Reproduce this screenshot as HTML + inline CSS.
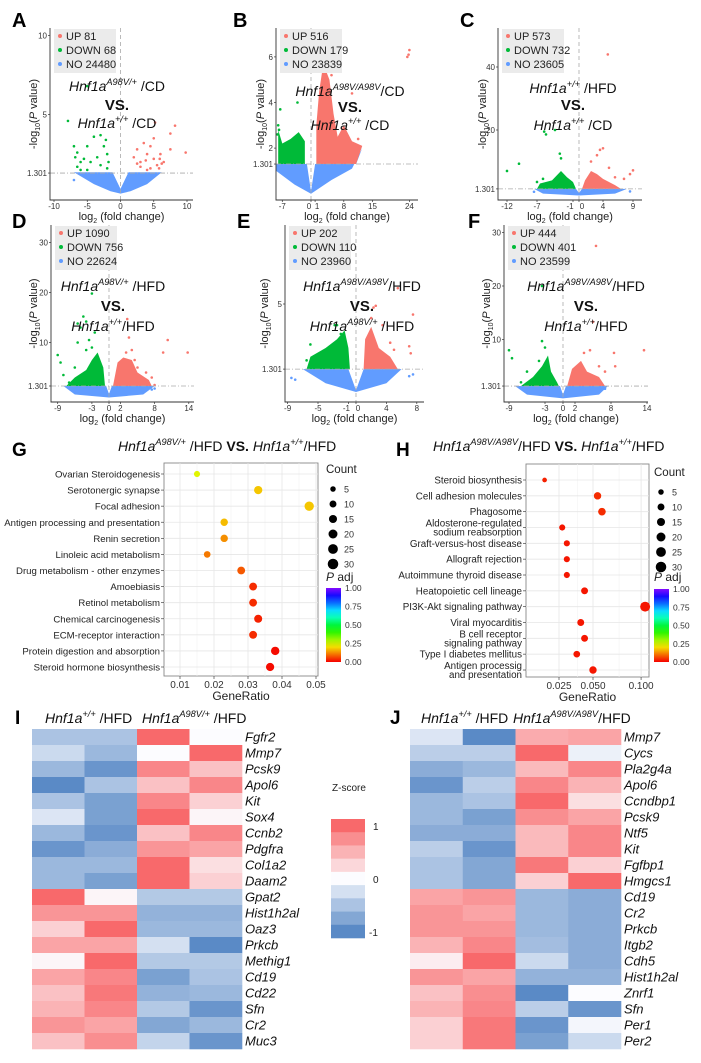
<!DOCTYPE html>
<html><head><meta charset="utf-8">
<style>
html,body{margin:0;padding:0;background:#fff;}
svg{display:block;font-family:"Liberation Sans",Arial,sans-serif;}
</style></head>
<body>
<svg id="fig" width="701" height="1063" viewBox="0 0 701 1063" xmlns="http://www.w3.org/2000/svg"></svg>
<script>
// ---------- Volcano data (log2FC, -log10 P) ----------
const volcA_up=[[2,2.3],[2.5,2.8],[3,2],[3.5,3.2],[4,2.5],[4.5,3],[5,2.2],[5.5,1.8],[6,2.5],[6.5,2],[3,1.7],[4.5,1.6],[5,3.5],[7.5,2.8],[7.5,3.8],[8.2,4.3],[9.8,2.6],[5.2,4.5],[2.5,1.9],[4,1.5],[5.8,1.6],[6.2,1.9],[5.9,2.2],[3.8,2.1]];
const volcA_down=[[-7,3],[-6.5,2.6],[-6,2],[-6.5,1.7],[-5.5,2.2],[-5,3],[-4.5,2],[-4,3.6],[-3,3.7],[-2.5,3],[-3.5,2.3],[-2,2.5],[-2.2,3.4],[-3,1.8],[-5,1.5],[-7.9,4.6],[-5,6.8],[-6,1.5],[-2,1.6],[-1.8,2.0],[-6.8,2.3]];
const volcA_no=[[-7,0.86]];
const volcB_up=[[8,7.4],[23.5,6],[24,6.3],[23.8,6.1],[10,4.4],[6,6.5],[7,5.8],[11.5,2.4],[5,5.2],[3,6.4]];
const volcB_down=[[-7.5,3.7],[-3.3,4],[-8,3],[-7.8,2.8],[-8.2,2.6]];
const volcB_no=[];
const volcC_up=[[4.8,44],[3.5,13.7],[4,14.2],[3,12],[2,10],[8.5,6],[9,7.2],[7.5,4.5],[5,8],[6,5]];
const volcC_down=[[-12,7],[-10,9.3],[-5.8,19.5],[-5.5,18.6],[-4,20],[-3,11],[-3.2,12.5],[-7,3.5],[-6,4.5]];
const volcC_no=[[-7.5,0.4],[8.5,0.5]];
const volcD_up=[[3.2,14.7],[3.5,11],[3,8],[4,8.5],[10.3,10.5],[9.5,8],[13.8,8],[6.5,4],[7.5,3],[8,1.5],[5,5],[4.5,6.5]];
const volcD_down=[[-9,7.5],[-8.5,6],[-5.5,10],[-5.5,13.8],[-5,13],[-4.5,15.2],[-4,14.2],[-3.5,10.5],[-3,19.8],[-3,9],[-4,8.5],[-2.5,12],[-8,3.5],[-7,2],[-6,5]];
const volcD_no=[[8,0.8],[7.5,0.6]];
const volcE_up=[[2.3,4.8],[2.6,4.9],[7.5,4.4],[5.5,5.9],[7,2.6],[7.2,2.2],[3.5,3.8],[4.5,2.8],[2,4.2],[5,2.4]];
const volcE_down=[[-2.8,3.8],[-2.5,3.8],[-6,2.7],[-6.5,1.8],[-2,3.3],[-3,2.4],[-4,1.6],[-5,1.8],[-2.2,2.9]];
const volcE_no=[[-8.5,0.8],[-8,0.7],[7.5,1.0],[7,0.9]];
const volcF_up=[[5.5,27.5],[13.5,8],[5,13.3],[8.5,7.5],[4.5,8],[3.5,7.5],[6,5],[7,4],[8.7,5]];
const volcF_down=[[-9,8],[-8.5,6.5],[-3.5,9.7],[-3,8.5],[-3.5,20],[-6,4],[-7,2],[-4,6]];
const volcF_no=[[6.5,1],[7,0.8]];
const volcCounts={A:[81,68,24480],B:[516,179,23839],C:[573,732,23605],D:[1090,756,22624],E:[202,110,23960],F:[444,401,23599]};

// ---------- Enrichment data ----------
const gTerms=["Ovarian Steroidogenesis","Serotonergic synapse","Focal adhesion","Antigen processing and presentation","Renin secretion","Linoleic acid metabolism","Drug metabolism - other enzymes","Amoebiasis","Retinol metabolism","Chemical carcinogenesis","ECM-receptor interaction","Protein digestion and absorption","Steroid hormone biosynthesis"];
const gRatio=[0.015,0.033,0.048,0.023,0.023,0.018,0.028,0.0315,0.0315,0.033,0.0315,0.038,0.0365];
const gCount=[7,16,22,12,12,9,14,14,14,15,14,17,16];
const gPadj=[0.24,0.18,0.18,0.17,0.13,0.11,0.08,0.04,0.04,0.03,0.04,0.01,0.01];
const gTicks=[0.01,0.02,0.03,0.04,0.05];
const hTerms=["Steroid biosynthesis","Cell adhesion molecules","Phagosome","Aldosterone-regulated|sodium reabsorption","Graft-versus-host disease","Allograft rejection","Autoimmune thyroid disease","Heatopoietic cell lineage","PI3K-Akt signaling pathway","Viral myocarditis","B cell receptor|signaling pathway","Type I diabetes mellitus","Antigen processig|and presentation"];
const hRatio=[0.017,0.054,0.058,0.027,0.030,0.030,0.030,0.043,0.105,0.040,0.043,0.037,0.050];
const hCount=[3,12,13,7,7,7,7,10,26,10,10,9,12];
const hPadj=[0.03,0.04,0.04,0.02,0.02,0.02,0.02,0.02,0.02,0.02,0.02,0.02,0.02];
const hTicks=[0.025,0.05,0.1];
const sizeLegend=[5,10,15,20,25,30];
const padjTicks=[1.00,0.75,0.50,0.25,0.00];

// ---------- Heatmap data (z-scores) ----------
const iGenes=["Fgfr2","Mmp7","Pcsk9","Apol6","Kit","Sox4","Ccnb2","Pdgfra","Col1a2","Daam2","Gpat2","Hist1h2al","Oaz3","Prkcb","Methig1","Cd19","Cd22","Sfn","Cr2","Muc3"];
const iZ=[[-0.5,-0.5,1,0],[-0.3,-0.6,0,1],[-0.6,-0.9,0.8,0.4],[-1,-0.5,0.4,0.8],[-0.5,-0.8,0.8,0.3],[-0.2,-0.8,1,0.05],[-0.6,-0.9,0.4,0.8],[-0.9,-0.7,0.7,0.6],[-0.6,-0.6,1,0.2],[-0.6,-0.8,1,0.3],[1,0.05,-0.45,-0.45],[0.7,0.7,-0.65,-0.65],[0.3,1,-0.6,-0.6],[0.6,0.6,-0.25,-1],[0.05,1,-0.45,-0.45],[0.6,0.8,-0.8,-0.5],[0.4,0.9,-0.65,-0.6],[0.5,0.8,-0.45,-0.9],[0.7,0.6,-0.75,-0.6],[0.4,0.75,-0.35,-0.9]];
const jGenes=["Mmp7","Cycs","Pla2g4a","Apol6","Ccndbp1","Pcsk9","Ntf5","Kit","Fgfbp1","Hmgcs1","Cd19","Cr2","Prkcb","Itgb2","Cdh5","Hist1h2al","Znrf1","Sfn","Per1","Per2"];
const jZ=[[-0.2,-1,0.55,0.6],[-0.4,-0.4,1,-0.1],[-0.7,-0.6,0.45,0.8],[-0.9,-0.4,0.8,0.5],[-0.6,-0.5,1,0.2],[-0.6,-0.8,0.75,0.6],[-0.7,-0.7,0.45,0.8],[-0.4,-0.9,0.45,0.8],[-0.5,-0.75,0.9,0.3],[-0.5,-0.75,0.3,1],[0.6,0.7,-0.6,-0.7],[0.7,0.6,-0.6,-0.7],[0.7,0.7,-0.6,-0.7],[0.5,0.8,-0.55,-0.7],[0.1,1,-0.3,-0.7],[0.7,0.6,-0.65,-0.65],[0.4,0.75,-1,0],[0.5,0.8,-0.4,-0.9],[0.3,0.9,-0.9,-0.05],[0.3,0.9,-0.8,-0.3]];
const zLegend=[1,0.75,0.5,0.25,0,-0.25,-0.5,-0.75,-1];

// ---------- helpers ----------
const NS="http://www.w3.org/2000/svg";
const svg=document.getElementById('fig');
function mk(tag,attrs,parent){const e=document.createElementNS(NS,tag);for(const k in attrs)e.setAttribute(k,attrs[k]);(parent||svg).appendChild(e);return e;}
const RED="#F8766D",GREEN="#00BA38",BLUE="#619CFF";

function hnfText(parent,x,y,sup,suffix,size,anchor,name){
  const t=mk('text',{x:x,y:y,'font-size':size,'text-anchor':anchor||'middle',fill:'#111'},parent);
  
  
  const a=mk('tspan',{'font-style':'italic'},t);a.textContent='Hnf1a';
  const b=mk('tspan',{'font-style':'italic','font-size':size*0.66,dy:-size*0.42},t);b.textContent=sup;
  const c=mk('tspan',{dy:size*0.42},t);c.textContent=suffix;
  return t;
}
function panelLetter(l,x,y,size){
  const t=mk('text',{x:x,y:y,'font-size':size||20,'font-weight':'bold',fill:'#000'});
  
  
  t.textContent=l;
}

function volcano(c){
  const g=mk('g',{});
  
  
  const sx=v=>c.x0px+c.xppu*v, sy=v=>c.y0px-c.yppu*v;
  const b=c.box;
  const clip=mk('clipPath',{id:'clip'+c.id},g);mk('rect',{x:b[0],y:b[1],width:b[2]-b[0],height:b[3]-b[1]},clip);
  const pg=mk('g',{'clip-path':'url(#clip'+c.id+')'},g);
  const poly=(pts,col,name)=>{const p=mk('polygon',{points:pts.map(q=>sx(q[0])+','+sy(q[1])).join(' '),fill:col},pg);};
  poly(c.bluePoly,BLUE,'no-change-cloud');
  if(c.greenPoly)poly(c.greenPoly,GREEN,'down-cluster');
  if(c.redPoly)poly(c.redPoly,RED,'up-cluster');
  const dots=(arr,col,name)=>arr.forEach(q=>{const d=mk('circle',{cx:sx(q[0]),cy:sy(q[1]),r:1.3,fill:col},pg);});
  dots(c.no,BLUE,'no-point');dots(c.down,GREEN,'down-point');dots(c.up,RED,'up-point');
  const vl=mk('line',{x1:sx(0),x2:sx(0),y1:b[1],y2:b[3],stroke:'#aaa','stroke-width':0.8,'stroke-dasharray':'4 3'},g);
  
  const hl=mk('line',{x1:b[0],x2:b[2],y1:sy(1.301),y2:sy(1.301),stroke:'#aaa','stroke-width':0.8,'stroke-dasharray':'5 2 1 2'},g);
  
  const ax=mk('path',{d:`M${b[0]},${b[1]}V${b[3]}H${b[2]}`,fill:'none',stroke:'#333','stroke-width':0.9},g);
  
  c.xticks.forEach((v,i)=>{const x=sx(v)+(c.xtickDx?c.xtickDx[i]:0);mk('line',{x1:sx(v),x2:sx(v),y1:b[3],y2:b[3]+2,stroke:'#333','stroke-width':0.7},g);
    const t=mk('text',{x:x,y:b[3]+9,'font-size':8,'text-anchor':'middle',fill:'#333'},g);t.textContent=(c.xlabels?c.xlabels[i]:v);});
  c.yticks.forEach(v=>{mk('line',{x1:b[0]-2,x2:b[0],y1:sy(v),y2:sy(v),stroke:'#333','stroke-width':0.7},g);
    const t=mk('text',{x:b[0]-3,y:sy(v)+3,'font-size':8,'text-anchor':'end',fill:'#333'},g);t.textContent=v;});
  const xt=mk('text',{x:(b[0]+b[2])/2,y:b[3]+20,'font-size':11,'text-anchor':'middle',fill:'#222'},g);
  
  xt.innerHTML='log<tspan font-size="7" dy="3">2</tspan><tspan dy="-3"> (fold change)</tspan>';
  const yx=c.ytitleX, yy=(b[1]+b[3])/2;
  const yt=mk('text',{x:yx,y:yy,'font-size':11,'text-anchor':'middle',fill:'#222',transform:`rotate(-90 ${yx} ${yy})`},g);
  
  yt.innerHTML='-log<tspan font-size="7" dy="3">10</tspan><tspan dy="-3">(</tspan><tspan font-style="italic">P</tspan> value)';
  const lg=mk('g',{},g);
  mk('rect',{x:b[0]+4,y:b[1]+1,width:62,height:44,fill:'#ebebeb'},lg);
  const cnt=volcCounts[c.id];const labs=['UP ','DOWN ','NO '];const cols=[RED,GREEN,BLUE];
  labs.forEach((l,i)=>{const yy2=b[1]+8+i*14;
    const e=mk('g',{},lg);
    mk('circle',{cx:b[0]+10,cy:yy2,r:2,fill:cols[i]},e);
    const t=mk('text',{x:b[0]+16,y:yy2+4,'font-size':11,fill:'#222'},e);t.textContent=l+cnt[i];});
  hnfText(g,c.tx,c.ty[0],c.sup1,c.suf1,14,'middle','comparison-title-top');
  const vs=mk('text',{x:c.tx,y:c.ty[1],'font-size':15,'font-weight':'bold','text-anchor':'middle',fill:'#111'},g);
  vs.textContent='VS.';
  hnfText(g,c.tx,c.ty[2],c.sup2,c.suf2,14,'middle','comparison-title-bottom');
}

panelLetter('A',12,27);panelLetter('B',233,27);panelLetter('C',460,27);
panelLetter('D',12,228);panelLetter('E',237,228);panelLetter('F',468,228);
volcano({id:'A',box:[50,28,193,200],x0px:120.5,xppu:6.65,y0px:193.6,yppu:15.8,xticks:[-10,-5,0,5,10],yticks:[1.301,5,10],ytitleX:37,
  bluePoly:[[-7,1.35],[-1.2,1.35],[0,0.3],[1.2,1.35],[6.2,1.35],[4,0.6],[1.5,0.15],[0,0],[-1.5,0.15],[-4,0.6]],
  up:volcA_up,down:volcA_down,no:volcA_no,tx:117,ty:[91,110,128],sup1:'A98V/+',suf1:' /CD',sup2:'+/+',suf2:' /CD'});
volcano({id:'B',box:[276,28,418,200],x0px:311,xppu:4.1,y0px:193.7,yppu:22.8,xticks:[-7,0,1,8,15,24],xlabels:['-7','0','1','8','15','24'],xtickDx:[0,-2,2,0,0,0],yticks:[1.301,2,4,6],ytitleX:264,
  bluePoly:[[-8.5,1.3],[-1,1.3],[0,0.1],[1,1.3],[11,1.3],[12.5,2.0],[10,1.1],[5,0.6],[0,0],[-4,0.4],[-8.5,1.0]],
  greenPoly:[[-8,1.3],[-8,2.8],[-7,2.2],[-5,2.4],[-3,2.7],[-1.5,2.3],[-1.5,1.3]],
  redPoly:[[1.3,1.3],[1.3,3],[2,4.5],[3,5.7],[4.5,5],[5.5,3.5],[6.5,2.5],[8,3],[10,2.3],[12.5,2.1],[11,1.3]],
  up:volcB_up,down:volcB_down,no:volcB_no,tx:350,ty:[96,112,130],sup1:'A98V/A98V',suf1:'/CD',sup2:'+/+',suf2:' /CD'});
volcano({id:'C',box:[498,28,642,200],x0px:579,xppu:6,y0px:193,yppu:3.15,xticks:[-12,-7,-1,0,4,9],xtickDx:[0,0,-3,3,0,0],yticks:[1.301,20,40],ytitleX:486,
  bluePoly:[[-7.5,1.3],[-0.5,1.3],[0,0],[0.5,1.3],[8,1.3],[6,-0.2],[0,-0.8],[-6,-0.2]],
  greenPoly:[[-7,1.3],[-6.5,3],[-4.5,4],[-3,7],[-2,5],[-1,3.5],[-0.5,1.3]],
  redPoly:[[0.5,1.3],[1,4],[2,7],[3,6],[4,4.5],[6,2.5],[7,1.3]],
  up:volcC_up,down:volcC_down,no:volcC_no,tx:573,ty:[93,110,130],sup1:'+/+',suf1:' /HFD',sup2:'+/+',suf2:' /CD'});
volcano({id:'D',box:[51,225,194,402],x0px:109,xppu:5.7,y0px:392.5,yppu:5,xticks:[-9,-3,0,2,8,14],yticks:[1.301,10,20,30],ytitleX:37,
  bluePoly:[[-8,1.3],[-0.5,1.3],[0,-0.3],[0.5,1.3],[8,1.3],[6,-0.4],[0,-1],[-6,-0.4]],
  greenPoly:[[-7.5,1.3],[-6,3],[-4,4.5],[-3,6.5],[-2,8],[-1,5],[-0.7,1.3]],
  redPoly:[[0.7,1.3],[1.5,6],[2.5,7],[4,6.5],[5,4],[7,2.5],[7.5,1.3]],
  up:volcD_up,down:volcD_down,no:volcD_no,tx:113,ty:[291,311,331],sup1:'A98V/+',suf1:' /HFD',sup2:'+/+',suf2:'/HFD'});
volcano({id:'E',box:[285,225,424,402],x0px:356,xppu:7.6,y0px:392,yppu:17.6,xticks:[-9,-5,-1,0,4,8],xtickDx:[0,0,-2,2,0,0],yticks:[1.301,5],ytitleX:268,
  bluePoly:[[-7,1.3],[-1,1.3],[0,0.1],[1,1.3],[6,1.3],[4,0.5],[0,0],[-4,0.5]],
  greenPoly:[[-6.5,1.3],[-6,2],[-4,2.5],[-2.5,3],[-1.5,3.5],[-1,2.5],[-0.8,1.3]],
  redPoly:[[1,1.3],[1.2,3],[2,3.7],[3,2.5],[4.5,2],[5.5,1.3]],
  up:volcE_up,down:volcE_down,no:volcE_no,tx:362,ty:[291,311,331],sup1:'A98V/A98V',suf1:'/HFD',sup2:'A98V/+',suf2:' /HFD'});
volcano({id:'F',box:[504,225,648,402],x0px:563,xppu:6,y0px:393,yppu:5.35,xticks:[-9,-3,0,2,8,14],yticks:[1.301,10,20,30],ytitleX:490,
  bluePoly:[[-8,1.3],[-0.5,1.3],[0,-0.3],[0.5,1.3],[7.5,1.3],[6,-0.3],[0,-1],[-6,-0.3]],
  greenPoly:[[-7,1.3],[-5,3],[-3.5,5],[-2.5,7],[-2,4],[-1,2],[-0.7,1.3]],
  redPoly:[[0.7,1.3],[1.5,4.5],[3,6],[4,4],[6,3],[7,1.3]],
  up:volcF_up,down:volcF_down,no:volcF_no,tx:586,ty:[291,311,331],sup1:'A98V/A98V',suf1:'/HFD',sup2:'+/+',suf2:'/HFD'});

// ---------- Dot plots ----------
function padjColor(p){const h=Math.max(0,Math.min(1,p))*270;return `hsl(${h},100%,${48+(p>0.5?4:0)}%)`;}
function radius(n){return 1.0+Math.sqrt(n)*0.78;}
function dotplot(c){
  const g=mk('g',{});
  const b=c.box;
  mk('rect',{x:b[0],y:b[1],width:b[2]-b[0],height:b[3]-b[1],fill:'#fff',stroke:'#888','stroke-width':0.9},g);
  const n=c.terms.length;
  const sy=i=>c.yFirst+i*(c.yLast-c.yFirst)/(n-1);
  const mids=[];for(let i=0;i<c.ticks.length-1;i++)mids.push((c.ticks[i]+c.ticks[i+1])/2);
  mids.forEach(v=>mk('line',{x1:c.sx(v),x2:c.sx(v),y1:b[1],y2:b[3],stroke:'#f2f2f2','stroke-width':0.6},g));
  c.ticks.forEach(v=>mk('line',{x1:c.sx(v),x2:c.sx(v),y1:b[1],y2:b[3],stroke:'#e6e6e6','stroke-width':0.8},g));
  c.terms.forEach((t,i)=>mk('line',{x1:b[0],x2:b[2],y1:sy(i),y2:sy(i),stroke:'#e6e6e6','stroke-width':0.8},g));
  c.terms.forEach((t,i)=>{
    mk('line',{x1:b[0]-3,x2:b[0],y1:sy(i),y2:sy(i),stroke:'#444','stroke-width':0.7},g);
    const parts=t.split('|');
    const tx=mk('text',{x:b[0]-4,y:sy(i)+3.5-(parts.length-1)*4.5,'font-size':c.fs,'text-anchor':'end',fill:'#222'},g);
    
    parts.forEach((p,k)=>{const s=mk('tspan',{x:b[0]-4,dy:k?9:0},tx);s.textContent=p;});
    const d=mk('circle',{cx:c.sx(c.ratio[i]),cy:sy(i),r:radius(c.count[i]),fill:padjColor(c.padj[i])},g);
    
  });
  c.ticks.forEach(v=>{mk('line',{x1:c.sx(v),x2:c.sx(v),y1:b[3],y2:b[3]+3,stroke:'#444','stroke-width':0.7},g);
    const t=mk('text',{x:c.sx(v),y:b[3]+12,'font-size':10,'text-anchor':'middle',fill:'#333'},g);t.textContent=c.fmt(v);});
  const xt=mk('text',{x:(b[0]+b[2])/2,y:b[3]+24,'font-size':12,'text-anchor':'middle',fill:'#222'},g);
  xt.textContent='GeneRatio';
  const L=c.leg;
  const sl=mk('g',{},g);
  const ct=mk('text',{x:L.x,y:L.y,'font-size':11.5,fill:'#222'},sl);ct.textContent='Count';
  sizeLegend.forEach((s,i)=>{const yy=L.y+16+i*15;mk('circle',{cx:L.x+7,cy:yy,r:radius(s),fill:'#000'},sl);
    const t=mk('text',{x:L.x+18,y:yy+3.5,'font-size':9,fill:'#333'},sl);t.textContent=s;});
  const pl=mk('g',{},g);
  const pt=mk('text',{x:L.x,y:L.py,'font-size':12,fill:'#222'},pl);pt.innerHTML='<tspan font-style="italic">P</tspan> adj';
  const gid='grad'+c.id;const lgd=mk('linearGradient',{id:gid,x1:0,y1:1,x2:0,y2:0},pl);
  for(let k=0;k<=10;k++)mk('stop',{offset:k/10,'stop-color':padjColor(k/10)},lgd);
  mk('rect',{x:L.x,y:L.cb0,width:15,height:L.cb1-L.cb0,fill:`url(#${gid})`},pl);
  padjTicks.forEach(v=>{const yy=L.cb1-(L.cb1-L.cb0)*v;
    const t=mk('text',{x:L.x+19,y:yy+3,'font-size':8.5,fill:'#333'},pl);t.textContent=v.toFixed(2);});
}
// rich inline title: parts = [text, 'i'|'s'|'n'|'b']
function richTitle(x,y,size,parts,name){
  const t=mk('text',{x:x,y:y,'font-size':size,fill:'#111'});
  
  
  let raised=false;
  parts.forEach(p=>{const a={};
    if(p[1]==='i')a['font-style']='italic';
    if(p[1]==='s'){a['font-style']='italic';a['font-size']=size*0.66;a.dy=-size*0.42;raised=true;}
    else if(raised){a.dy=size*0.42;raised=false;}
    if(p[1]==='b')a['font-weight']='bold';
    const s=mk('tspan',a,t);s.textContent=p[0];});
}
panelLetter('G',12,456,19);panelLetter('H',396,456,19);
richTitle(118,451,14,[['Hnf1a','i'],['A98V/+','s'],[' /HFD ','n'],['VS. ','b'],['Hnf1a','i'],['+/+','s'],['/HFD','n']],'panel-g-title');
richTitle(433,451,14,[['Hnf1a','i'],['A98V/A98V','s'],['/HFD  ','n'],['VS. ','b'],['Hnf1a','i'],['+/+','s'],['/HFD','n']],'panel-h-title');
dotplot({id:'g',box:[164,463,318,676],terms:gTerms,ratio:gRatio,count:gCount,padj:gPadj,ticks:gTicks,
  sx:v=>180+(v-0.01)*3400,yFirst:474,yLast:667,fs:9.6,fmt:v=>v.toFixed(2),
  leg:{x:326,y:473,py:581,cb0:588,cb1:662}});
const hsx=v=>559+(Math.sqrt(v)-Math.sqrt(0.025))*(34/(Math.sqrt(0.05)-Math.sqrt(0.025)));
dotplot({id:'h',box:[526,464,649,677],terms:hTerms,ratio:hRatio,count:hCount,padj:hPadj,ticks:hTicks,
  sx:hsx,yFirst:480,yLast:670,fs:9.8,fmt:v=>v.toFixed(3),
  leg:{x:654,y:476,py:581,cb0:589,cb1:662}});

// ---------- Heatmaps ----------
function lerp(a,b,t){return Math.round(a+(b-a)*t);}
function zColor(z){const w=[252,252,255],r=[248,105,107],bl=[90,138,198];const c=z>=0?r:bl;const t=Math.min(1,Math.abs(z));
  return `rgb(${lerp(w[0],c[0],t)},${lerp(w[1],c[1],t)},${lerp(w[2],c[2],t)})`;}
function heatmap(c){
  const g=mk('g',{});
  const cw=(c.x1-c.x0)/4,ch=(c.y1-c.y0)/c.genes.length;
  c.z.forEach((row,i)=>row.forEach((z,j)=>{const r=mk('rect',{x:c.x0+j*cw,y:c.y0+i*ch,width:cw+0.3,height:ch+0.3,fill:zColor(z)},g);
    }));
  c.genes.forEach((n,i)=>{const t=mk('text',{x:c.x1+3,y:c.y0+i*ch+ch/2+4.5,'font-size':13,'font-style':'italic',fill:'#111'},g);
    t.textContent=n;});
}
panelLetter('I',15,724,19);panelLetter('J',390,724,19);
richTitle(45,723,14,[['Hnf1a','i'],['+/+','s'],[' /HFD','n']],'i-header-control');
richTitle(142,723,14,[['Hnf1a','i'],['A98V/+','s'],[' /HFD','n']],'i-header-mutant');
richTitle(421,723,14,[['Hnf1a','i'],['+/+','s'],[' /HFD','n']],'j-header-control');
richTitle(513,723,14,[['Hnf1a','i'],['A98V/A98V','s'],['/HFD','n']],'j-header-mutant');
heatmap({id:'i',x0:32,x1:242,y0:729,y1:1049,genes:iGenes,z:iZ});
heatmap({id:'j',x0:410,x1:621,y0:729,y1:1049,genes:jGenes,z:jZ});
{const g=mk('g',{});
 const t=mk('text',{x:332,y:791,'font-size':10,fill:'#222'},g);t.textContent='Z-score';
 const bh=(938-819)/zLegend.length;
 zLegend.forEach((z,i)=>mk('rect',{x:331,y:819+i*bh,width:34,height:bh+0.3,fill:zColor(z)},g));
 [['1',827],['0',880],['-1',933]].forEach(p=>{const l=mk('text',{x:p[0]==='-1'?369:373,y:p[1]+3,'font-size':10,fill:'#222'},g);l.textContent=p[0];});}
</script>
</body></html>
